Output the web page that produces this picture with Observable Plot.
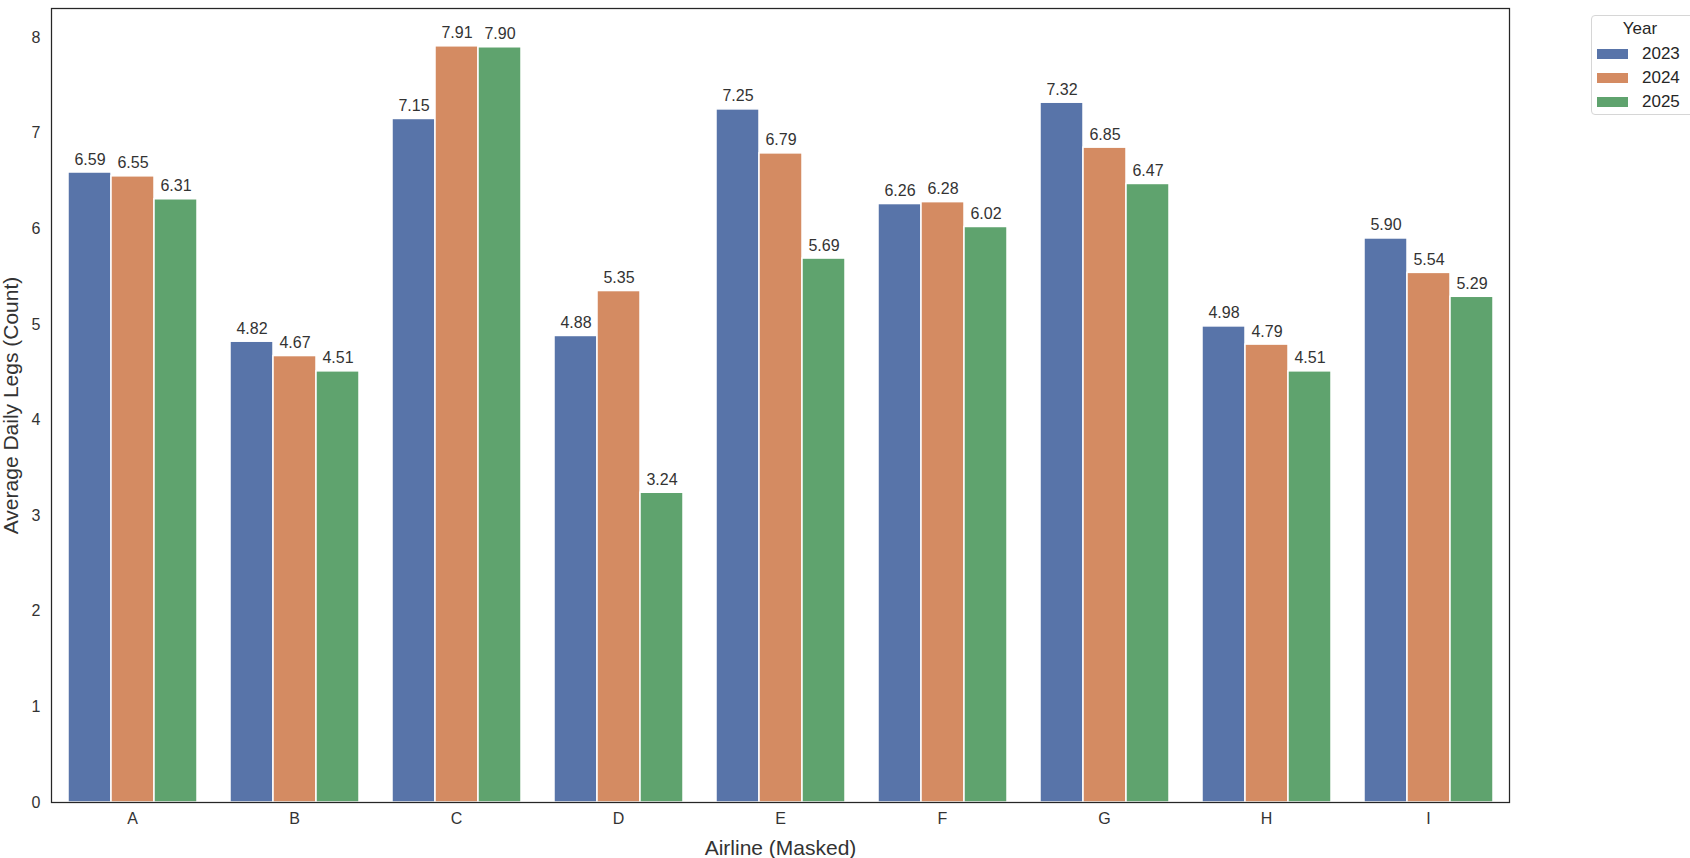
<!DOCTYPE html>
<html>
<head>
<meta charset="utf-8">
<script src="https://cdn.jsdelivr.net/npm/d3@7"></script>
<script src="https://cdn.jsdelivr.net/npm/@observablehq/plot@0.6"></script>
<style>
  body { margin: 0; background: #fff; font-family: "Liberation Sans", Arial, sans-serif; }
  #wrap { position: relative; width: 1690px; height: 858px; overflow: hidden; background: #fff; }
  #chart svg { display: block; }
  #legend { position: absolute; left: 1591px; top: 15px; width: 130px; height: 98px;
            border: 1px solid #d6d6d6; border-radius: 4px; background: #fff; color: #262626; font-size: 17px; }
  #legend .title { position: absolute; left: 0; width: 96px; top: 3px; text-align: center; }
  #legend .row { position: absolute; left: 5px; height: 20px; }
  #legend .sw { position: absolute; left: 0; top: 5px; width: 31px; height: 10px; }
  #legend .lb { position: absolute; left: 45px; top: 0; line-height: 20px; }
</style>
</head>
<body>
<div id="wrap">
  <div id="chart"></div>
  <div id="legend"></div>
</div>
<script>
const airlines = ["A", "B", "C", "D", "E", "F", "G", "H", "I"];
const years = ["2023", "2024", "2025"];
const v2023 = [6.59, 4.82, 7.15, 4.88, 7.25, 6.26, 7.32, 4.98, 5.90];
const v2024 = [6.55, 4.67, 7.91, 5.35, 6.79, 6.28, 6.85, 4.79, 5.54];
const v2025 = [6.31, 4.51, 7.90, 3.24, 5.69, 6.02, 6.47, 4.51, 5.29];
const yTicks = [0, 1, 2, 3, 4, 5, 6, 7, 8];
const colors = ["#5874a9", "#d48b62", "#5fa36e"];

const series = [v2023, v2024, v2025];
const data = [];
airlines.forEach((a, i) => years.forEach((y, k) => data.push({airline: a, year: y, value: series[k][i]})));
const yMax = d3.max(data, d => d.value) * 1.05;

const chart = Plot.plot({
  width: 1690,
  height: 858,
  marginLeft: 51,
  marginRight: 181,
  marginTop: 8,
  marginBottom: 56,
  style: {fontFamily: '"Liberation Sans", Arial, sans-serif', color: "#333", background: "#fff"},
  fx: {domain: airlines, padding: 0},
  x: {domain: years, paddingInner: 0, paddingOuter: 0.375, axis: null},
  y: {domain: [0, yMax]},
  color: {domain: years, range: colors},
  marks: [
    Plot.barY(data, {fx: "airline", x: "year", y: "value", fill: "year", stroke: "#fff", strokeWidth: 1.5}),
    Plot.text(data, {fx: "airline", x: "year", y: "value", text: d => d.value.toFixed(2),
      lineAnchor: "bottom", dy: -8, fontSize: 16, fill: "#333"}),
    Plot.axisY({ticks: yTicks, tickSize: 0, tickPadding: 11, fontSize: 16, label: null, fill: "#333"}),
    Plot.axisY({ticks: [], label: "Average Daily Legs (Count)", labelAnchor: "center", labelArrow: "none",
      labelOffset: 48, fontSize: 21, fill: "#333"}),
    Plot.axisFx({anchor: "bottom", tickSize: 0, tickPadding: 10, fontSize: 16, label: null, fill: "#333"}),
    Plot.axisFx({anchor: "bottom", ticks: [], label: "Airline (Masked)", labelAnchor: "center", labelArrow: "none",
      labelOffset: 52, fontSize: 21, fill: "#333"}),
    Plot.frame({stroke: "#262626", strokeWidth: 1.25, facet: "super"})
  ]
});
document.getElementById("chart").appendChild(chart);

const legend = document.getElementById("legend");
const t = document.createElement("div");
t.className = "title"; t.textContent = "Year";
legend.appendChild(t);
years.forEach((y, k) => {
  const r = document.createElement("div");
  r.className = "row";
  r.style.top = (28 + k * 24) + "px";
  r.innerHTML = `<div class="sw" style="background:${colors[k]}"></div><div class="lb">${y}</div>`;
  legend.appendChild(r);
});
</script>
</body>
</html>
